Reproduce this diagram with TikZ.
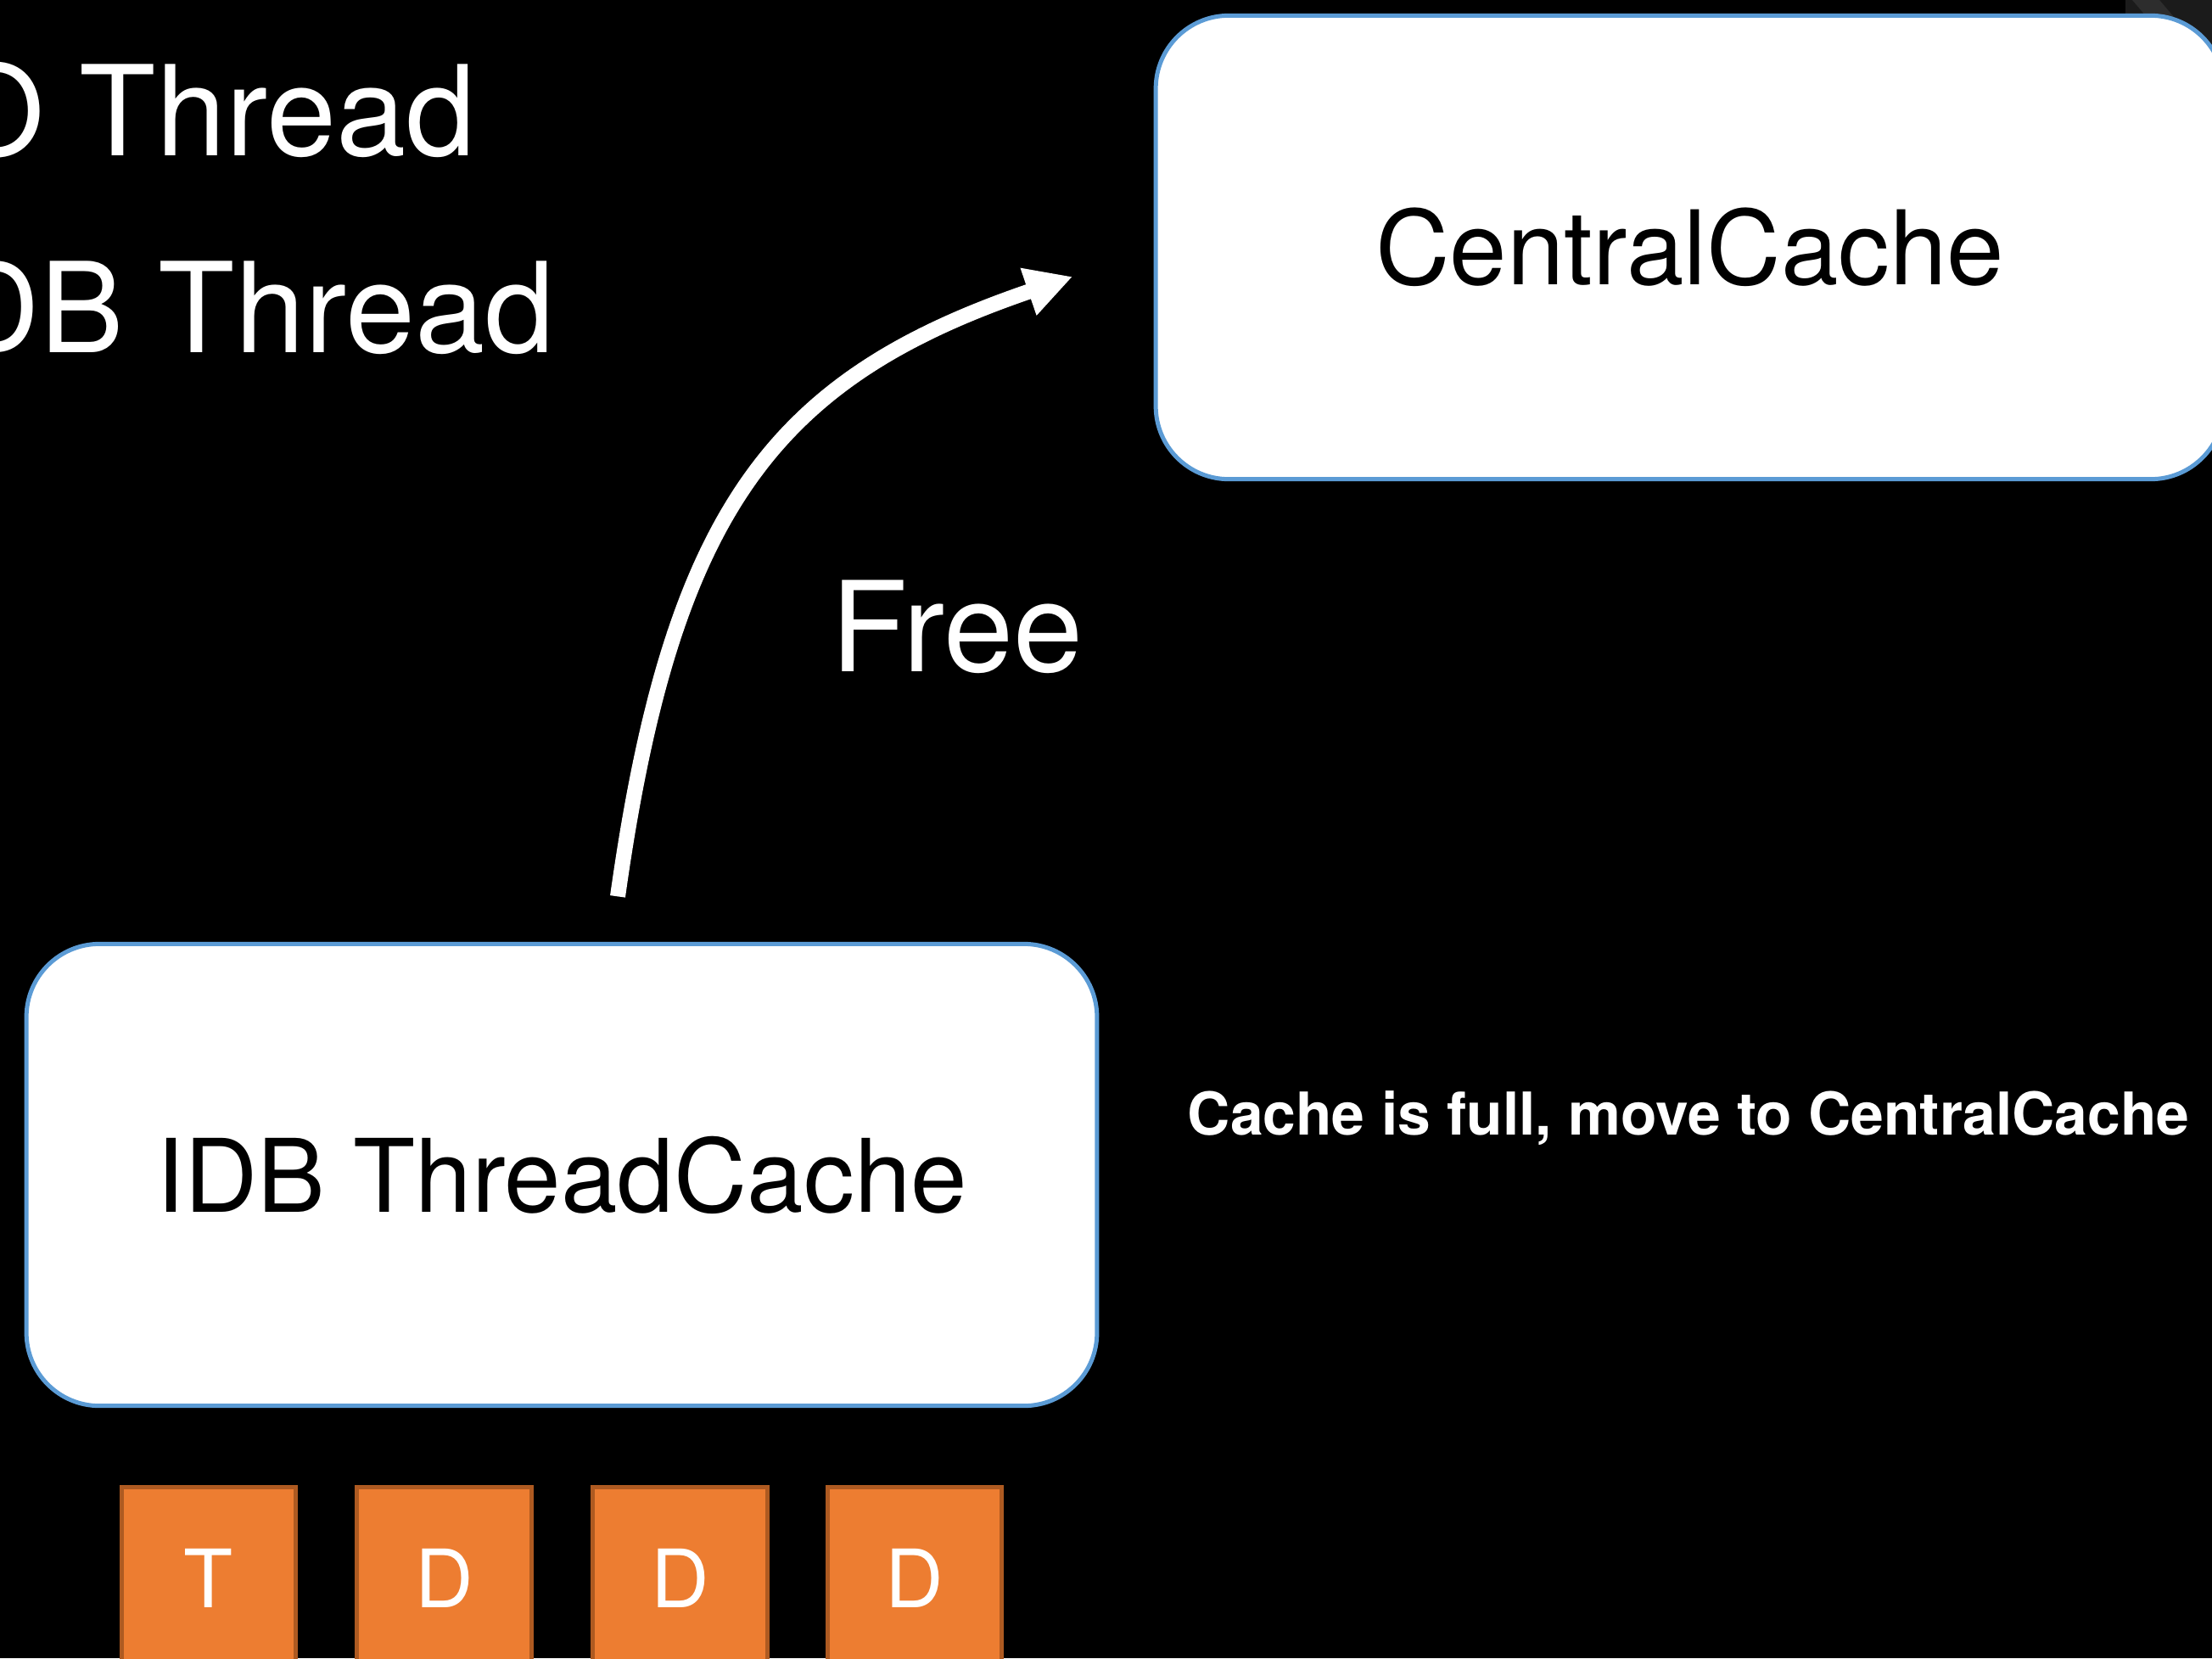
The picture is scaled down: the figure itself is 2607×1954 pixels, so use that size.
\documentclass[tikz,border=0pt]{standalone}
\usepackage{fontspec}
\setmainfont{TeX Gyre Heros}
\usetikzlibrary{arrows.meta,calc}
\definecolor{boxblue}{HTML}{5B9BD5}
\definecolor{blockfill}{HTML}{ED7D31}
\definecolor{blockedge}{HTML}{AE5A21}
\definecolor{cornergrey}{HTML}{1B1B1B}
\definecolor{cornerstreak}{HTML}{2D2D2D}
\begin{document}
\begin{tikzpicture}[x=0.01cm,y=-0.01cm,
  cachebox/.style={draw=boxblue, line width=0.05cm, fill=white,
    rounded corners=0.86cm, inner sep=0pt, text=black},
  block/.style={draw=blockedge, line width=0.05cm, fill=blockfill,
    inner sep=0pt, minimum width=2.05cm, minimum height=2.15cm,
    anchor=north, text=white, font=\fontsize{27}{32}\selectfont},
  bigtext/.style={text=white, inner sep=0pt, font=\fontsize{42}{48}\selectfont},
  notetext/.style={text=white, inner sep=0pt,
    font=\bfseries\fontsize{19.8}{24}\selectfont},
  freearrow/.style={white, line width=0.18cm,
    -{Triangle[length=0.55cm,width=0.55cm]}}]

  % canvas
  \useasboundingbox (0,0) rectangle (2607,1954);
  \fill[black] (0,0) rectangle (2607,1954);
  \fill[cornergrey] (2505,0) rectangle (2607,120);
  \fill[cornerstreak] (2513,0) -- (2545,0) -- (2562,20) -- (2530,20) -- cycle;

  % caches
  \node[cachebox, minimum width=12.58cm, minimum height=5.46cm,
    font=\fontsize{34.5}{40}\selectfont]
    (central) at (1991.5,291.5) {CentralCache};
  \node[cachebox, minimum width=12.61cm, minimum height=5.44cm,
    font=\fontsize{34}{40}\selectfont]
    (thread) at (662,1384.5) {IDB ThreadCache};

  % cached blocks
  \node[block] (b1) at (246,1749.5) {T};
  \node[block] (b2) at (523.5,1749.5) {D};
  \node[block] (b3) at (801.5,1749.5) {D};
  \node[block] (b4) at (1078,1749.5) {D};

  % labels
  \node[bigtext, anchor=base east] (t1) at (561,183) {IO Thread};
  \node[bigtext, anchor=base east] (t2) at (654,415) {IDB Thread};
  \node[bigtext, anchor=base west] (free) at (979,791) {Free};
  \node[notetext, anchor=base west] (note) at (1399,1337)
    {Cache is full, move to CentralCache};

  % free path from thread cache to central cache
  \coordinate (fromTC) at ($(thread.north)+(66,-53.5)$);
  \coordinate (toCC) at ($(central.west)+(-95.5,34.5)$);
  \draw[freearrow] (fromTC) .. controls (792,600) and (912,446) .. (toCC);
\end{tikzpicture}
\end{document}
